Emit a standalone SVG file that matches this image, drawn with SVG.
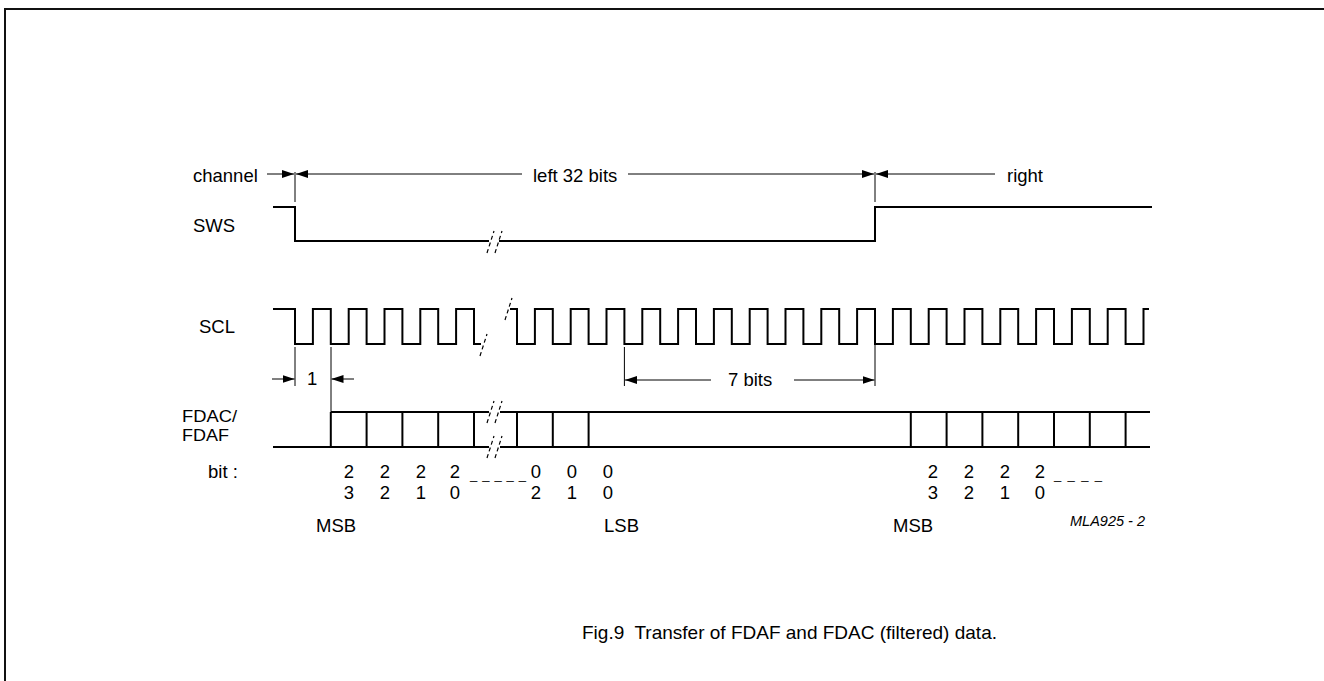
<svg xmlns="http://www.w3.org/2000/svg" width="1324" height="681" viewBox="0 0 1324 681">
<style>
text{font-family:"Liberation Sans",Arial,sans-serif;font-size:18.5px;fill:#000}
.sig{fill:none;stroke:#000;stroke-width:2;stroke-linejoin:miter}
.thin{fill:none;stroke:#000;stroke-width:1}
.brk{fill:none;stroke:#000;stroke-width:1.2;stroke-dasharray:4 3}
.mid{text-anchor:middle}
.dash{font-size:13px}
.two{font-size:17px}
</style>
<defs>
<marker id="ah" viewBox="0 0 12 8" refX="12" refY="4" markerWidth="12" markerHeight="8" markerUnits="userSpaceOnUse" orient="auto">
<path d="M0,0 L12,4 L0,8 Z" fill="#000"/>
</marker>
</defs>
<rect x="0" y="0" width="1324" height="681" fill="#fff"/>
<path d="M5,700 V9 H1340" fill="none" stroke="#111" stroke-width="2"/>

<g id="labels">
<text x="193" y="182">channel</text>
<text x="533" y="182">left 32 bits</text>
<text x="1007" y="182">right</text>
<text x="193" y="232">SWS</text>
<text x="199" y="333">SCL</text>
<text class="two" x="182" y="422" textLength="55" lengthAdjust="spacingAndGlyphs">FDAC/</text>
<text class="two" x="182" y="441" textLength="47" lengthAdjust="spacingAndGlyphs">FDAF</text>
<text x="208" y="478">bit :</text>
<text x="307" y="385">1</text>
<text x="728" y="386">7 bits</text>
<text x="316" y="532">MSB</text>
<text x="604" y="532">LSB</text>
<text x="893" y="532">MSB</text>
<text x="1070" y="526" style="font-style:italic;font-size:14.5px">MLA925 - 2</text>
<text x="582" y="639" style="font-size:19px" xml:space="preserve">Fig.9  Transfer of FDAF and FDAC (filtered) data.</text>
</g>

<g id="sws">
<path class="sig" d="M273,207 H295 V241 H489 M499,241 H875 V207 H1152"/>
<path class="brk" d="M487,253 L494,231 M495,253 L502,231"/>
</g>

<g id="scl">
<path class="sig" d="M273,309 H295 V344 H312.9 V309 H330.8 V344 H348.7 V309 H366.6 V344 H384.5 V309 H402.4 V344 H420.3 V309 H438.2 V344 H456.1 V309 H474 V344 H481"/>
<path class="sig" d="M510,309 H517 V344 H534.9 V309 H552.8 V344 H570.7 V309 H588.6 V344 H606.5 V309 H624.4 V344 H642.3 V309 H660.2 V344 H678.1 V309 H696 V344 H713.9 V309 H731.8 V344 H749.7 V309 H767.6 V344 H785.5 V309 H803.4 V344 H821.3 V309 H839.2 V344 H857.1 V309 H875 V344 H892.9 V309 H910.8 V344 H928.7 V309 H946.6 V344 H964.5 V309 H982.4 V344 H1000.3 V309 H1018.2 V344 H1036.1 V309 H1054 V344 H1071.9 V309 H1089.8 V344 H1107.7 V309 H1125.6 V344 H1143.5 V309 H1149"/>
<path class="brk" d="M480,356 L487,334 M505,320 L512,298"/>
</g>

<g id="fdac">
<path class="sig" d="M273,447 H489 M500,447 H1150 M331,412 H489 M500,412 H1150"/>
<path class="sig" d="M330.8,412 V447 M366.6,412 V447 M402.4,412 V447 M438.2,412 V447 M474,412 V447 M517,412 V447 M552.8,412 V447 M588.6,412 V447 M910.8,412 V447 M946.6,412 V447 M982.4,412 V447 M1018.2,412 V447 M1054,412 V447 M1089.8,412 V447 M1125.6,412 V447"/>
<path class="brk" d="M487,423 L494,401 M495,423 L502,401 M487,458 L494,436 M495,458 L502,436"/>
</g>

<g id="bits">
<text class="mid" x="349" y="478">2</text><text class="mid" x="349" y="499">3</text>
<text class="mid" x="385" y="478">2</text><text class="mid" x="385" y="499">2</text>
<text class="mid" x="421" y="478">2</text><text class="mid" x="421" y="499">1</text>
<text class="mid" x="455" y="478">2</text><text class="mid" x="455" y="499">0</text>
<text class="dash" x="470" y="479" textLength="56" lengthAdjust="spacing">_ _ _ _ _</text>
<text class="mid" x="536" y="478">0</text><text class="mid" x="536" y="499">2</text>
<text class="mid" x="572" y="478">0</text><text class="mid" x="572" y="499">1</text>
<text class="mid" x="608" y="478">0</text><text class="mid" x="608" y="499">0</text>
<text class="mid" x="933" y="478">2</text><text class="mid" x="933" y="499">3</text>
<text class="mid" x="969" y="478">2</text><text class="mid" x="969" y="499">2</text>
<text class="mid" x="1005" y="478">2</text><text class="mid" x="1005" y="499">1</text>
<text class="mid" x="1040" y="478">2</text><text class="mid" x="1040" y="499">0</text>
<text class="dash" x="1054" y="479" textLength="48" lengthAdjust="spacing">_ _ _ _</text>
</g>

<g id="connectors">
<path class="thin" d="M295,172 V202 M875,172 V202"/>
<path class="thin" marker-end="url(#ah)" d="M267,174 H294"/>
<path class="thin" marker-end="url(#ah)" d="M522,174 H296"/>
<path class="thin" marker-end="url(#ah)" d="M628,174 H874"/>
<path class="thin" marker-end="url(#ah)" d="M995,174 H876"/>
<path class="thin" d="M295,347 V386 M331,347 V412 M624.4,347 V386 M875,344 V386"/>
<path class="thin" marker-end="url(#ah)" d="M272,379 H294.5"/>
<path class="thin" marker-end="url(#ah)" d="M354,379 H331.5"/>
<path class="thin" marker-end="url(#ah)" d="M711,380 H625"/>
<path class="thin" marker-end="url(#ah)" d="M794,380 H874.5"/>
</g>
</svg>
